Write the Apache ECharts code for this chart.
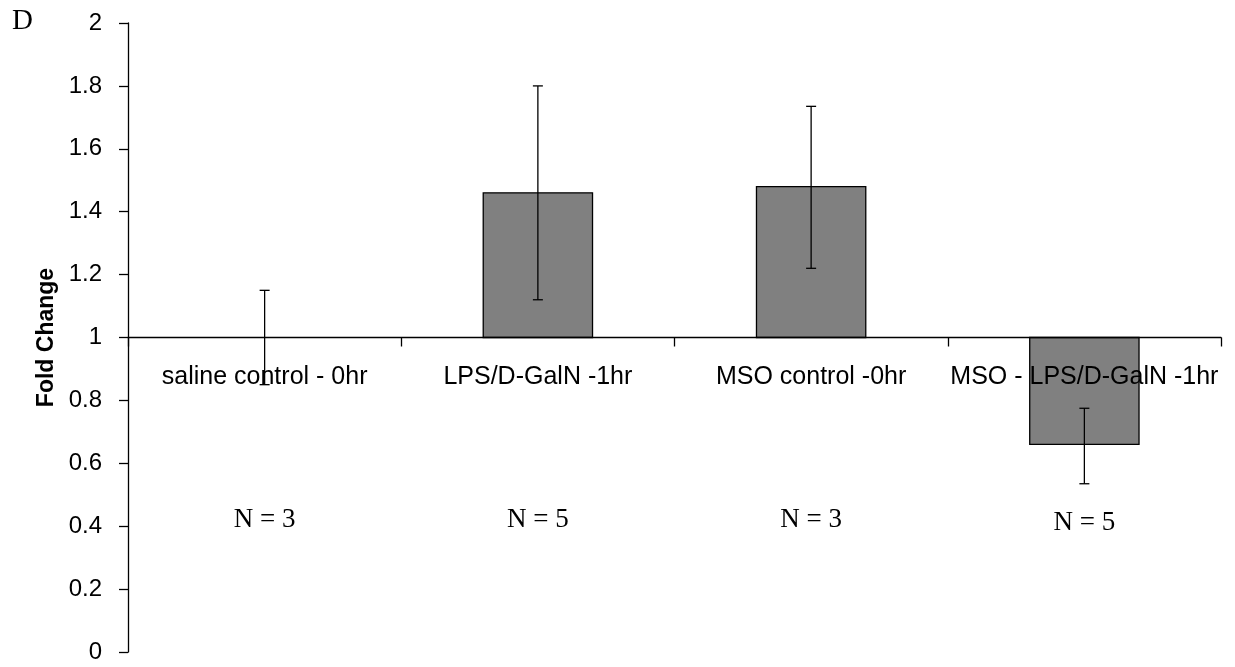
<!DOCTYPE html>
<html>
<head>
<meta charset="utf-8">
<script src="https://cdn.jsdelivr.net/npm/echarts@6/dist/echarts.min.js"></script>
<style>
  html, body { margin: 0; padding: 0; background: #fff; }
  #chart { width: 1235px; height: 667px; }
</style>
</head>
<body>
<div id="chart"></div>
<script>
var categories = ['saline control - 0hr', 'LPS/D-GalN -1hr', 'MSO control -0hr', 'MSO - LPS/D-GalN -1hr'];
var foldChange = [1.0, 1.46, 1.48, 0.66];
var errLow = [0.85, 1.12, 1.22, 0.535];
var errHigh = [1.15, 1.80, 1.735, 0.775];
var nLabels = ['N = 3', 'N = 5', 'N = 3', 'N = 5'];
var nLabelY = [0.42, 0.42, 0.42, 0.41];

var myChart = echarts.init(document.getElementById('chart'));

myChart.setOption({
    animation: false,
    grid: { left: 128, right: 14, top: 23, bottom: 15 },
    graphic: [{
        type: 'text', left: 12, top: 7,
        style: { text: 'D', font: '29px "Liberation Serif", serif', fill: '#000' }
    }],
    xAxis: {
        type: 'category',
        data: categories,
        position: 'bottom',
        offset: -314.5,
        z: 5,
        axisLine: { lineStyle: { color: '#000', width: 1.3 } },
        axisTick: { show: true, interval: 0, length: 9, lineStyle: { color: '#000', width: 1.3 } },
        axisLabel: {
            interval: 0, hideOverlap: false, margin: 27, fontSize: 25, color: '#000',
            fontFamily: '"Liberation Sans", sans-serif'
        }
    },
    yAxis: {
        type: 'value',
        min: 0, max: 2, interval: 0.2,
        name: 'Fold Change',
        nameLocation: 'middle',
        nameGap: 70,
        nameTextStyle: { fontSize: 23, fontWeight: 'bold', color: '#000', fontFamily: '"Liberation Sans", sans-serif' },
        axisLine: { show: true, lineStyle: { color: '#000', width: 1.3 } },
        axisTick: { show: true, length: 9, lineStyle: { color: '#000', width: 1.3 } },
        axisLabel: { margin: 26, fontSize: 24, color: '#000', fontFamily: '"Liberation Sans", sans-serif' },
        splitLine: { show: false }
    },
    series: [{
        name: 'bars',
        type: 'custom',
        z: 2,
        data: foldChange.map(function (v, i) { return [i, v]; }),
        renderItem: function (params, api) {
            var i = api.value(0);
            var base = api.coord([i, 1]);
            var top = api.coord([i, api.value(1)]);
            var w = api.size([1, 0])[0] * 0.4;
            var h = Math.abs(base[1] - top[1]);
            if (h < 0.5) { return null; }
            return {
                type: 'rect',
                shape: { x: base[0] - w / 2, y: Math.min(base[1], top[1]), width: w, height: h },
                style: { fill: '#808080', stroke: '#000', lineWidth: 1.3 }
            };
        }
    }, {
        name: 'error',
        type: 'custom',
        z: 6,
        data: errLow.map(function (v, i) { return [i, v, errHigh[i]]; }),
        renderItem: function (params, api) {
            var i = api.value(0);
            var lo = api.coord([i, api.value(1)]);
            var hi = api.coord([i, api.value(2)]);
            var c = 5;
            var st = { stroke: '#000', lineWidth: 1.3 };
            return {
                type: 'group',
                children: [
                    { type: 'line', shape: { x1: lo[0], y1: lo[1], x2: hi[0], y2: hi[1] }, style: st },
                    { type: 'line', shape: { x1: lo[0] - c, y1: lo[1], x2: lo[0] + c, y2: lo[1] }, style: st },
                    { type: 'line', shape: { x1: hi[0] - c, y1: hi[1], x2: hi[0] + c, y2: hi[1] }, style: st }
                ]
            };
        }
    }, {
        name: 'n',
        type: 'custom',
        z: 6,
        data: nLabelY.map(function (v, i) { return [i, v]; }),
        renderItem: function (params, api) {
            var i = params.dataIndex;
            var p = api.coord([i, api.value(1)]);
            return {
                type: 'text',
                x: p[0], y: p[1],
                style: {
                    text: nLabels[i], font: '27px "Liberation Serif", serif',
                    fill: '#000', align: 'center', verticalAlign: 'middle'
                }
            };
        }
    }]
});
</script>
</body>
</html>
